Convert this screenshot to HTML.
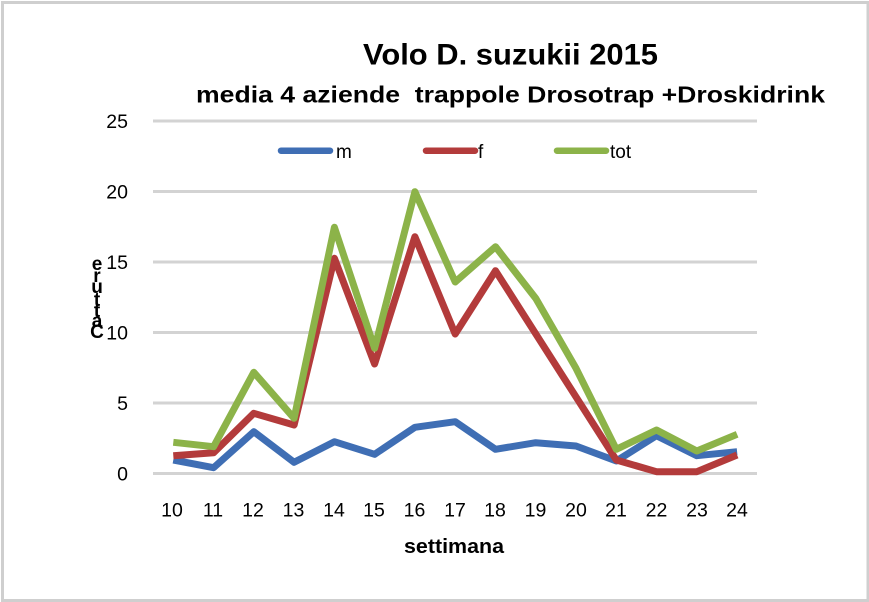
<!DOCTYPE html>
<html>
<head>
<meta charset="utf-8">
<style>
  html, body { margin: 0; padding: 0; background: #ffffff; }
  body { width: 869px; height: 602px; overflow: hidden; }
  svg { display: block; }
  text { font-family: "Liberation Sans", "DejaVu Sans", sans-serif; fill: #000; }
</style>
</head>
<body>
<svg width="869" height="602" viewBox="0 0 869 602" xmlns="http://www.w3.org/2000/svg">
  <rect x="0" y="0" width="869" height="602" fill="#ffffff"/>
  <!-- outer border -->
  <rect x="2.5" y="2.5" width="865.5" height="598" fill="none" stroke="#cfcfcf" stroke-width="3"/>

  <!-- title -->
  <text x="363" y="64.5" font-size="30" font-weight="bold" textLength="295" lengthAdjust="spacingAndGlyphs">Volo D. suzukii 2015</text>
  <text x="196" y="102.5" font-size="23" font-weight="bold" textLength="629" lengthAdjust="spacingAndGlyphs">media 4 aziende&#160; trappole Drosotrap +Droskidrink</text>

  <!-- gridlines -->
  <g stroke="#d3d3d3" stroke-width="3">
    <line x1="153" y1="121" x2="757" y2="121"/>
    <line x1="153" y1="191.5" x2="757" y2="191.5"/>
    <line x1="153" y1="262" x2="757" y2="262"/>
    <line x1="153" y1="332.5" x2="757" y2="332.5"/>
    <line x1="153" y1="403" x2="757" y2="403"/>
    <line x1="153" y1="473.5" x2="757" y2="473.5"/>
  </g>

  <!-- y tick labels -->
  <g font-size="19.5" text-anchor="end">
    <text x="128" y="128">25</text>
    <text x="128" y="198.5">20</text>
    <text x="128" y="269">15</text>
    <text x="128" y="339.5">10</text>
    <text x="128" y="410">5</text>
    <text x="128" y="480.5">0</text>
  </g>

  <!-- y axis title (stacked letters) -->
  <g font-size="19" font-weight="bold" text-anchor="middle">
    <text x="97" y="338">C</text>
    <text x="97" y="327">a</text>
    <text x="97" y="317">t</text>
    <text x="97" y="306">t</text>
    <text x="97" y="293">u</text>
    <text x="97" y="282">r</text>
    <text x="97" y="270">e</text>
  </g>

  <!-- legend -->
  <g stroke-width="6.5" stroke-linecap="round">
    <line x1="281" y1="150.7" x2="330" y2="150.7" stroke="#3f6eb4"/>
    <line x1="426" y1="150.7" x2="475" y2="150.7" stroke="#b33b3b"/>
    <line x1="557" y1="150.7" x2="606" y2="150.7" stroke="#8cb349"/>
  </g>
  <g font-size="19">
    <text x="336" y="158">m</text>
    <text x="478" y="158">f</text>
    <text x="610" y="158">tot</text>
  </g>

  <!-- series -->
  <g fill="none" stroke-width="7" stroke-linejoin="round" stroke-linecap="butt">
    <polyline stroke="#3f6eb4" points="173.3,460 213.6,467.7 253.8,431.7 294.1,462.3 334.4,441.7 374.6,454.3 414.9,427.3 455.2,421.7 495.5,449.3 535.7,442.7 576,446 616.3,461 656.5,435.7 696.8,455.7 737.1,451.7"/>
    <polyline stroke="#b33b3b" points="173.3,455.7 213.6,452.7 253.8,413.3 294.1,425 334.4,258.3 374.6,364 414.9,236.7 455.2,334 495.5,270.7 535.7,333.8 576,396.9 616.3,460 656.5,471.7 696.8,471.7 737.1,455"/>
    <polyline stroke="#8cb349" points="173.3,442.3 213.6,446.7 253.8,372.3 294.1,418.3 334.4,227.3 374.6,348.3 414.9,191.7 455.2,282 495.5,246.7 535.7,298.3 576,368.3 616.3,449.3 656.5,430 696.8,451 737.1,434.3"/>
  </g>

  <!-- x tick labels -->
  <g font-size="19.5" text-anchor="middle">
    <text x="172" y="516.7">10</text>
    <text x="213" y="516.7">11</text>
    <text x="253" y="516.7">12</text>
    <text x="293.5" y="516.7">13</text>
    <text x="334" y="516.7">14</text>
    <text x="374" y="516.7">15</text>
    <text x="414.5" y="516.7">16</text>
    <text x="455" y="516.7">17</text>
    <text x="495" y="516.7">18</text>
    <text x="535.5" y="516.7">19</text>
    <text x="576" y="516.7">20</text>
    <text x="616" y="516.7">21</text>
    <text x="656.5" y="516.7">22</text>
    <text x="697" y="516.7">23</text>
    <text x="737" y="516.7">24</text>
  </g>

  <!-- x axis title -->
  <text x="404" y="553" font-size="20" font-weight="bold" textLength="100" lengthAdjust="spacingAndGlyphs">settimana</text>
</svg>
</body>
</html>
